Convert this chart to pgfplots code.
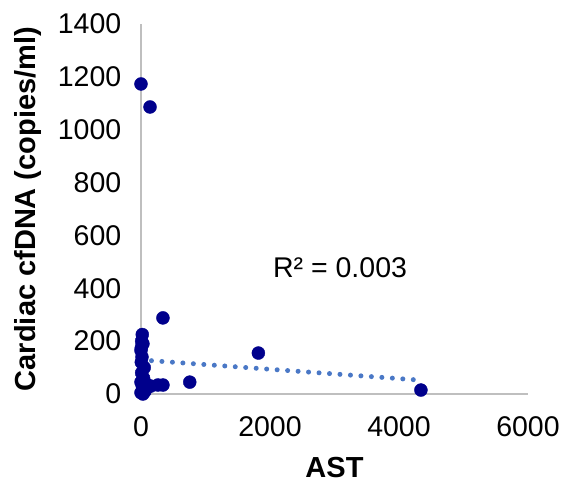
\documentclass[border=0pt]{standalone}
\usepackage{pgfplots}
\pgfplotsset{compat=1.18}
\usepackage{fontspec}
\setmainfont{Liberation Sans}
\definecolor{axgray}{RGB}{191,191,191}
\definecolor{navy}{RGB}{0,0,140}
\definecolor{trend}{RGB}{74,120,198}
\begin{document}
\fontsize{28.5bp}{33bp}\selectfont
\begin{tikzpicture}
\begin{axis}[
  scale only axis,
  width=387bp, height=370bp,
  xmin=0, xmax=6000, ymin=0, ymax=1400,
  xtick={0,2000,4000,6000},
  ytick={0,200,400,600,800,1000,1200,1400},
  axis x line*=bottom, axis y line*=left,
  axis line style={axgray, line width=2.5bp, -},
  major tick length=0pt,
  /pgf/number format/assume math mode=true,
  /pgf/number format/1000 sep={},
  tick label style={font=\fontsize{28.5bp}{33bp}\selectfont, black},
  xticklabel style={yshift=-13bp},
  yticklabel style={xshift=-10bp},
  xlabel={\textbf{AST}},
  ylabel={\textbf{Cardiac cfDNA (copies/ml)}},
  label style={font=\fontsize{29bp}{33bp}\selectfont\bfseries},
  xlabel style={yshift=-1bp},
  ylabel style={yshift=-3bp},
  clip=false,
]
\addplot[only marks, mark=*, mark size=6.5bp, mark options={fill=navy, draw=navy}] coordinates {
(0,1173) (140,1086) (340,288) (1820,155) (4340,15) (756,45) (262,34) (340,34)
(20,225) (10,200) (30,190) (5,175) (0,165) (15,140) (50,100) (10,80) (40,60)
(0,45) (20,30) (100,25) (150,30) (60,10) (0,5) (30,0) (80,38) (5,120)
};
\addplot[trend, line width=5bp, dash pattern=on 0pt off 10.5bp, line cap=round] coordinates {(0,129) (4350,52)};
\node[font=\fontsize{28.5bp}{33bp}\selectfont] at (axis cs:3086,477) {R² = 0.003};
\end{axis}
\pgfresetboundingbox
\path ([shift={(-141bp,-91bp)}]current axis.south west) rectangle ([shift={(34bp,24bp)}]current axis.north east);
\end{tikzpicture}
\end{document}
